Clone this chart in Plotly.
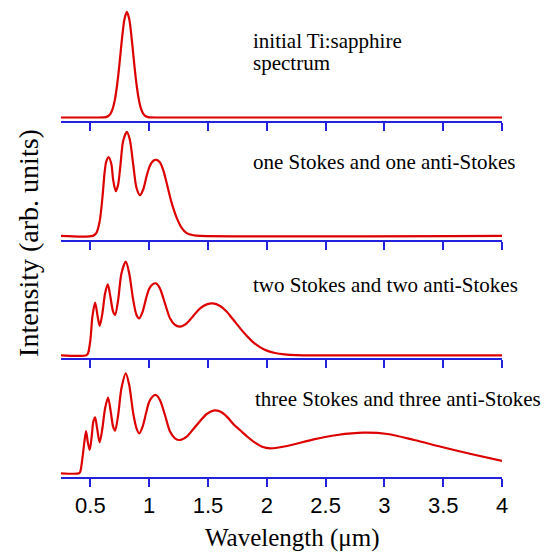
import plotly.graph_objects as go

# ---------------- data ----------------
wl_initial = [0.25, 0.55, 0.61, 0.63, 0.65, 0.67, 0.69, 0.71, 0.73, 0.75, 0.77, 0.79, 0.81,
              0.83, 0.85, 0.87, 0.89, 0.91, 0.93, 0.95, 0.97, 0.99, 1.01, 1.07, 4.0]
int_initial = [0, 0, 0.001, 0.004, 0.012, 0.035, 0.085, 0.18, 0.334, 0.539, 0.76, 0.934, 1.0,
               0.934, 0.76, 0.539, 0.334, 0.18, 0.085, 0.035, 0.012, 0.004, 0.001, 0, 0]

wl_one = [0.25, 0.52, 0.551, 0.579, 0.602, 0.622, 0.636, 0.656, 0.679, 0.693, 0.716, 0.736,
          0.756, 0.778, 0.810, 0.835, 0.864, 0.892, 0.921, 0.949, 0.978, 1.006, 1.035, 1.063,
          1.092, 1.12, 1.148, 1.191, 1.234, 1.276, 1.319, 1.376, 1.433, 4.0]
int_one = [0, 0, 0.029, 0.141, 0.365, 0.622, 0.718, 0.756, 0.686, 0.542, 0.429, 0.494,
           0.686, 0.910, 1.0, 0.926, 0.686, 0.462, 0.391, 0.446, 0.575, 0.675, 0.722, 0.731,
           0.705, 0.63, 0.510, 0.317, 0.173, 0.077, 0.026, 0.006, 0, 0]

wl_two = [0.25, 0.466, 0.480, 0.500, 0.517, 0.540, 0.562, 0.579, 0.602, 0.625, 0.648, 0.670,
          0.693, 0.710, 0.736, 0.764, 0.801, 0.830, 0.864, 0.892, 0.915, 0.945, 0.975, 1.0,
          1.029, 1.057, 1.091, 1.134, 1.177, 1.219, 1.262, 1.319, 1.376, 1.433, 1.489, 1.541,
          1.603, 1.660, 1.717, 1.774, 1.831, 1.888, 1.945, 2.0, 2.07, 2.15, 2.25, 2.35, 4.0]
int_two = [0, 0, 0.021, 0.164, 0.413, 0.562, 0.413, 0.313, 0.448, 0.662, 0.758, 0.626,
           0.466, 0.431, 0.591, 0.875, 1.0, 0.875, 0.591, 0.431, 0.395, 0.47, 0.615, 0.712,
           0.758, 0.769, 0.715, 0.555, 0.395, 0.324, 0.306, 0.342, 0.423, 0.502, 0.544, 0.555,
           0.527, 0.466, 0.377, 0.288, 0.206, 0.135, 0.085, 0.05, 0.025, 0.01, 0.002, 0, 0]

wl_three = [0.25, 0.403, 0.414, 0.432, 0.449, 0.463, 0.477, 0.494, 0.511, 0.525, 0.540, 0.557,
            0.579, 0.602, 0.625, 0.650, 0.673, 0.693, 0.710, 0.736, 0.764, 0.801, 0.830, 0.864,
            0.892, 0.915, 0.945, 0.975, 1.0, 1.029, 1.057, 1.091, 1.134, 1.177, 1.219, 1.262,
            1.319, 1.376, 1.433, 1.489, 1.546, 1.603, 1.660, 1.717, 1.774, 1.831, 1.887, 1.96,
            2.03, 2.172, 2.399, 2.599, 2.826, 3.026, 3.253, 3.480, 3.736, 4.0]
int_three = [0, 0, 0.017, 0.15, 0.317, 0.423, 0.317, 0.233, 0.367, 0.517, 0.56, 0.45,
             0.31, 0.45, 0.65, 0.757, 0.617, 0.467, 0.427, 0.583, 0.85, 1.0, 0.883, 0.6,
             0.45, 0.4, 0.47, 0.61, 0.715, 0.768, 0.783, 0.733, 0.583, 0.417, 0.35, 0.333,
             0.367, 0.443, 0.523, 0.593, 0.627, 0.617, 0.567, 0.49, 0.43, 0.37, 0.316, 0.266,
             0.25, 0.273, 0.34, 0.383, 0.406, 0.393, 0.333, 0.266, 0.193, 0.123]

panel_labels = [["initial Ti:sapphire", "spectrum"],
                ["one Stokes and one anti-Stokes"],
                ["two Stokes and two anti-Stokes"],
                ["three Stokes and three anti-Stokes"]]

tick_vals = [0.5, 1, 1.5, 2, 2.5, 3, 3.5, 4]
tick_text = ["0.5", "1", "1.5", "2", "2.5", "3", "3.5", "4"]

x_title = "Wavelength (μm)"
y_title = "Intensity (arb. units)"

# ---------------- styling / layout ----------------
RED = "#dd0000"
BLUE = "#2323dd"
SERIF = "Liberation Serif, Times New Roman, serif"
SANS = "Liberation Sans, Arial, sans-serif"

series = [(wl_initial, int_initial), (wl_one, int_one), (wl_two, int_two), (wl_three, int_three)]
# top -> bottom panels
domains = [[0.7495, 0.9895], [0.4989, 0.7389], [0.2505, 0.4905], [0.0, 0.24]]
yranges = [[-0.033, 1.047], [-0.040, 1.056], [-0.029, 1.189], [-0.037, 1.103]]

fig = go.Figure()
n = len(series)
for i, (wx, wy) in enumerate(series):
    k = n - i  # bottom panel gets axis index 1
    suffix = "" if k == 1 else str(k)
    fig.add_trace(go.Scatter(x=wx, y=wy, mode="lines",
                             line=dict(color=RED, width=2.2, shape="spline", smoothing=0.8),
                             xaxis="x" + suffix, yaxis="y" + suffix, showlegend=False,
                             hoverinfo="skip"))
    fig.layout["xaxis" + suffix] = dict(
        domain=[0, 1], range=[0.25, 4.0], anchor="y" + suffix,
        tickmode="array", tickvals=tick_vals, ticktext=tick_text,
        showticklabels=(k == 1), ticks="outside", ticklen=8, tickwidth=2, tickcolor=BLUE,
        showline=True, linecolor=BLUE, linewidth=2, showgrid=False, zeroline=False,
        tickfont=dict(family=SANS, size=22, color="black"), fixedrange=True)
    fig.layout["yaxis" + suffix] = dict(
        domain=domains[i], range=yranges[i], anchor="x" + suffix, visible=False,
        showgrid=False, zeroline=False, fixedrange=True)

# panel texts
label_pos = [[(0.431, 0.9173), (0.431, 0.8716)], [(0.431, 0.6632)], [(0.431, 0.4042)],
             [(0.435, 0.1632)]]
for lines, poss in zip(panel_labels, label_pos):
    for txt, (px, py) in zip(lines, poss):
        fig.add_annotation(text=txt, x=px, y=py, xref="paper", yref="paper",
                           xanchor="left", yanchor="middle", showarrow=False,
                           font=dict(family=SERIF, size=21, color="black"))

fig.add_annotation(text=x_title, x=0.526, y=-0.129, xref="paper", yref="paper",
                   xanchor="center", yanchor="middle", showarrow=False,
                   font=dict(family=SERIF, size=25, color="black"))
fig.add_annotation(text=y_title, x=-0.075, y=0.4926, xref="paper", yref="paper",
                   xanchor="center", yanchor="middle", showarrow=False, textangle=-90,
                   font=dict(family=SERIF, size=28, color="black"))

fig.update_layout(width=544, height=553, margin=dict(l=61, r=42, t=2, b=76),
                  plot_bgcolor="white", paper_bgcolor="white")

fig.write_html("out.html")
